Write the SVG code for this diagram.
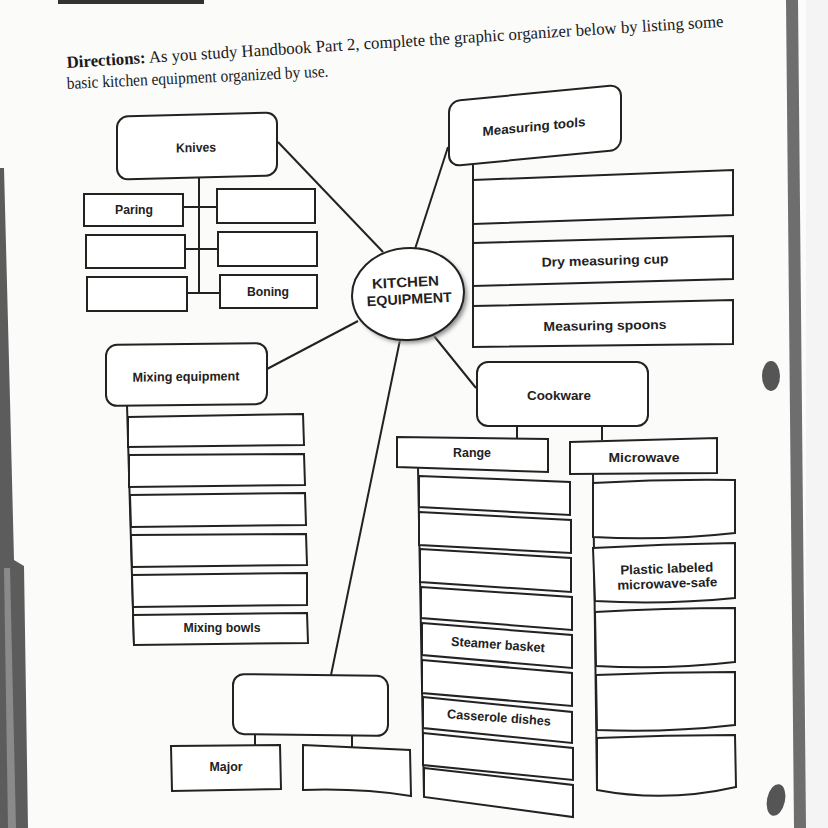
<svg xmlns="http://www.w3.org/2000/svg" width="828" height="828" viewBox="0 0 828 828">
<defs>
<style>
.b{fill:#fff;stroke:#222;stroke-width:2}
.c{fill:none;stroke:#222;stroke-width:2}
.t{font-family:"Liberation Sans",Arial,sans-serif;font-weight:bold;font-size:13px;fill:#222;text-anchor:middle}
.h{font-family:"Liberation Serif","Times New Roman",serif;font-size:17px;fill:#1a1a1a}
</style>
<filter id="blur" x="-20%" y="-20%" width="140%" height="140%"><feGaussianBlur stdDeviation="2"/></filter>
</defs>
<rect width="828" height="828" fill="#fbfbfa"/>
<!-- scan artifacts -->
<polygon points="0,168 4,168 10,400 14,560 24,566 28,828 0,828" fill="#5c5c5c"/>
<polygon points="4,568 10,568 16,828 8,828" fill="#8a8a8a"/>
<rect x="58" y="0" width="146" height="4" fill="#333"/>
<polygon points="786,0 798,0 806,828 794,828" fill="#6e6e6e"/>
<rect x="806" y="0" width="22" height="828" fill="#f4f4f4"/>
<ellipse cx="771" cy="376" rx="9" ry="15" fill="#555"/>
<ellipse cx="776" cy="800" rx="9" ry="16" fill="#555" transform="rotate(12 776 800)"/>

<!-- header -->
<text class="h" x="67" y="68" transform="rotate(-3.6 67 68)" textLength="658" lengthAdjust="spacingAndGlyphs"><tspan font-weight="bold">Directions:</tspan> As you study Handbook Part 2, complete the graphic organizer below by listing some</text>
<text class="h" x="67" y="89" transform="rotate(-2.7 67 89)" textLength="262" lengthAdjust="spacingAndGlyphs">basic kitchen equipment organized by use.</text>

<g id="connectors">
<line class="c" x1="278" y1="142" x2="383" y2="252"/>
<line class="c" x1="415" y1="249" x2="448" y2="147"/>
<line class="c" x1="358" y1="321" x2="267" y2="369"/>
<line class="c" x1="400" y1="340" x2="331" y2="675"/>
<line class="c" x1="434" y1="336" x2="476" y2="388"/>
<!-- knives tree -->
<line class="c" x1="199" y1="178" x2="199" y2="293"/>
<line class="c" x1="183" y1="207" x2="217" y2="207"/>
<line class="c" x1="185" y1="249" x2="218" y2="249"/>
<line class="c" x1="187" y1="293" x2="220" y2="293"/>
<!-- trunks -->
<line class="c" x1="473" y1="165" x2="473" y2="347"/>
<line class="c" x1="127" y1="405" x2="134" y2="645"/>
<line class="c" x1="418" y1="467" x2="424" y2="797"/>
<line class="c" x1="593" y1="474" x2="597" y2="790"/>
<line class="c" x1="517" y1="426" x2="517" y2="439"/>
<line class="c" x1="602" y1="427" x2="602" y2="440"/>
<line class="c" x1="255" y1="734" x2="255" y2="746"/>
<line class="c" x1="352" y1="736" x2="352" y2="747"/>
</g>

<g id="center">
<ellipse cx="411" cy="297" rx="56" ry="46" fill="#8a8a8a" filter="url(#blur)" transform="rotate(-5 411 297)"/>
<ellipse class="b" cx="408" cy="294" rx="56" ry="46" transform="rotate(-5 408 294)"/>
<g transform="rotate(-3 408 294)">
<text class="t" style="font-size:14px" x="406" y="287" textLength="67" lengthAdjust="spacingAndGlyphs">KITCHEN</text>
<text class="t" style="font-size:14px" x="409" y="304" textLength="85" lengthAdjust="spacingAndGlyphs">EQUIPMENT</text>
</g>
</g>

<g id="knives">
<g transform="translate(197 146) skewY(-1.5) translate(-197 -146)">
<rect class="b" x="117" y="114.5" width="160" height="63" rx="11"/>
<text class="t" x="196" y="152" textLength="40" lengthAdjust="spacingAndGlyphs">Knives</text>
</g>
</g>
<g id="knife-paring"><rect class="b" x="84" y="194" width="99" height="32"/><text class="t" x="134" y="214" textLength="38" lengthAdjust="spacingAndGlyphs">Paring</text></g>
<g id="knife-l2"><rect class="b" x="86" y="235" width="99" height="33"/></g>
<g id="knife-l3"><rect class="b" x="87" y="277" width="100" height="34"/></g>
<g id="knife-r1"><rect class="b" x="217" y="189" width="98" height="34"/></g>
<g id="knife-r2"><rect class="b" x="218" y="232" width="99" height="34"/></g>
<g id="knife-boning"><rect class="b" x="220" y="275" width="97" height="33"/><text class="t" x="268" y="296" textLength="42" lengthAdjust="spacingAndGlyphs">Boning</text></g>

<g id="measuring">
<g transform="translate(535 125) skewY(-5.5) translate(-535 -125)">
<rect class="b" x="449" y="93" width="172" height="65" rx="11"/>
<text class="t" x="534" y="131" textLength="103" lengthAdjust="spacingAndGlyphs">Measuring tools</text>
</g>
</g>
<g id="meas-1"><polygon class="b" points="473,180 733,170 733,215 473,224"/></g>
<g id="meas-2"><polygon class="b" points="473,243 733,236 733,279 473,286"/><text class="t" x="605" y="265" transform="rotate(-1.5 605 260)" textLength="127" lengthAdjust="spacingAndGlyphs">Dry measuring cup</text></g>
<g id="meas-3"><polygon class="b" points="473,306 733,300 733,344 473,347"/><text class="t" x="605" y="330" transform="rotate(-1 605 325)" textLength="123" lengthAdjust="spacingAndGlyphs">Measuring spoons</text></g>

<g id="mixing">
<g transform="translate(186 375) skewY(-0.7) translate(-186 -375)">
<rect class="b" x="106" y="344" width="161" height="61" rx="11"/>
<text class="t" x="186" y="381" textLength="107" lengthAdjust="spacingAndGlyphs">Mixing equipment</text>
</g>
</g>
<g id="mix-1"><polygon class="b" points="128,417 303,414 304,445 128,447"/></g>
<g id="mix-2"><polygon class="b" points="129,455 304,454 305,485 129,487"/></g>
<g id="mix-3"><polygon class="b" points="130,495 305,493 306,525 131,527"/></g>
<g id="mix-4"><polygon class="b" points="131,535 306,534 307,565 132,567"/></g>
<g id="mix-5"><polygon class="b" points="132,575 307,573 307,605 133,607"/></g>
<g id="mix-6"><polygon class="b" points="133,615 307,613 308,643 134,645"/><text class="t" x="222" y="632" textLength="77" lengthAdjust="spacingAndGlyphs">Mixing bowls</text></g>

<g id="cookware">
<rect class="b" x="477" y="362" width="171" height="64" rx="11"/>
<text class="t" x="559" y="400" textLength="64" lengthAdjust="spacingAndGlyphs">Cookware</text>
</g>
<g id="range"><polygon class="b" points="397,437 548,439 548,472 397,467"/><text class="t" x="472" y="457" textLength="38" lengthAdjust="spacingAndGlyphs">Range</text></g>
<g id="microwave"><polygon class="b" points="570,442 717,438 717,473 570,474"/><text class="t" x="644" y="462" textLength="71" lengthAdjust="spacingAndGlyphs">Microwave</text></g>

<g id="range-1"><polygon class="b" points="419,476 570,482 570,515 419,507"/></g>
<g id="range-2"><polygon class="b" points="419,512 571,520 571,553 419,545"/></g>
<g id="range-3"><polygon class="b" points="420,549 571,558 571,592 420,582"/></g>
<g id="range-4"><polygon class="b" points="421,587 572,597 572,630 421,618"/></g>
<g id="range-5"><polygon class="b" points="422,623 572,635 572,668 422,655"/><text class="t" x="498" y="649" transform="rotate(4 498 645)" textLength="94" lengthAdjust="spacingAndGlyphs">Steamer basket</text></g>
<g id="range-6"><polygon class="b" points="422,660 572,673 572,706 422,693"/></g>
<g id="range-7"><polygon class="b" points="423,697 572,712 572,743 423,728"/><text class="t" x="499" y="722" transform="rotate(4 499 718)" textLength="104" lengthAdjust="spacingAndGlyphs">Casserole dishes</text></g>
<g id="range-8"><polygon class="b" points="423,733 573,748 573,780 423,765"/></g>
<g id="range-9"><polygon class="b" points="424,768 573,785 573,817 424,797"/></g>

<g id="micro-1"><path class="b" d="M593,483 Q664,479 735,480 L735,533 Q664,541 593,537 Z"/></g>
<g id="micro-2"><path class="b" d="M593,548 Q664,544 735,543 L735,598 Q664,605 595,601 Z"/><g transform="rotate(-2 667 576)"><text class="t" x="667" y="573" textLength="93" lengthAdjust="spacingAndGlyphs">Plastic labeled</text><text class="t" x="667" y="588" textLength="100" lengthAdjust="spacingAndGlyphs">microwave-safe</text></g></g>
<g id="micro-3"><path class="b" d="M595,612 Q665,608 735,608 L735,662 Q665,670 596,666 Z"/></g>
<g id="micro-4"><path class="b" d="M596,675 Q665,672 735,672 L735,725 Q665,733 597,730 Z"/></g>
<g id="micro-5"><path class="b" d="M597,738 Q666,735 735,735 L736,787 Q666,803 597,790 Z"/></g>

<g id="other">
<g transform="translate(310 705) skewY(0.7) translate(-310 -705)">
<rect class="b" x="233" y="675" width="155" height="60" rx="11"/>
</g>
</g>
<g id="major"><polygon class="b" points="171,746 280,745 281,789 172,791"/><text class="t" x="226" y="771" textLength="33" lengthAdjust="spacingAndGlyphs">Major</text></g>
<g id="other-2"><path class="b" d="M303,745 L410,750 L411,796 Q360,788 303,790 Z"/></g>
</svg>
